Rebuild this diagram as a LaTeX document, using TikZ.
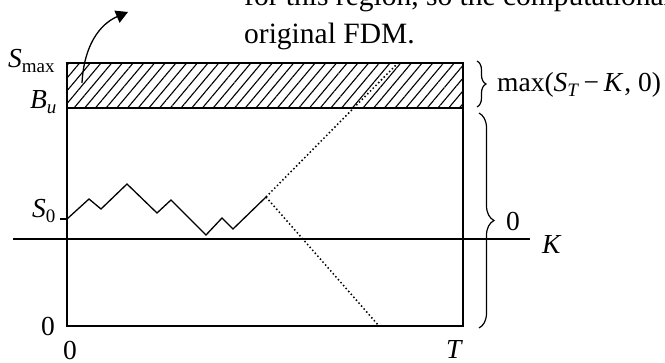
\documentclass[tikz,border=0pt]{standalone}
\usepackage{fontspec}
\setmainfont{Liberation Serif}
\usetikzlibrary{patterns.meta,decorations.pathreplacing,arrows.meta}
\newcommand{\lbsub}[1]{\raisebox{-0.2em}{\fontsize{19}{19}\selectfont #1}}
\begin{document}
\begin{tikzpicture}[x=1pt,y=-1pt,
  lbl/.style={anchor=base west,inner sep=0pt,font=\fontsize{27.5}{31}\selectfont},
  body/.style={anchor=base west,inner sep=0pt,font=\fontsize{29.5}{35}\selectfont},
  frame/.style={line width=1.3pt},
  dots/.style={line width=1.5pt,dash pattern=on 1.5pt off 2.4pt},
  hatch/.style={pattern={Lines[angle=50,distance=8.2pt,line width=1.1pt]}},
  brc/.style={line width=1.2pt,decorate,decoration={brace,amplitude=#1}}]
\useasboundingbox (0,0) rectangle (665,362);
% frame coordinates
\coordinate (TL) at (67,63);
\coordinate (TR) at (463,63);
\coordinate (BL) at (67,326);
\coordinate (BR) at (463,326);
\coordinate (BuL) at (67,108);
\coordinate (BuR) at (463,108);
\coordinate (KL) at (13,239);
\coordinate (KR) at (530,239);
% hatched band
\fill[hatch] (TL) rectangle (BuR);
\draw[frame] (TL) rectangle (BR);
\draw[frame] (BuL) -- (BuR);
\draw[frame] (KL) -- (KR);
% price path
\coordinate (P0) at (67,219);
\coordinate (Pend) at (266,197);
\coordinate (tick) at (60,219);
\draw[frame] (tick) -- (P0);
\draw[frame,line join=miter] (P0) -- (89,199) -- (101,209) -- (127,184) -- (157,213)
  -- (171,200) -- (206,235) -- (222,218) -- (233,229) -- (Pend);
\coordinate (Up) at (398,63);
\coordinate (Dn) at (379,326);
\draw[dots] (Pend) -- (Up);
\draw[dots] (Pend) -- (Dn);
% arrow
\coordinate (atail) at (82,83);
\coordinate (ahead) at (128,12);
\draw[line width=1.3pt,-{Triangle[length=12pt,width=13pt]}] (atail) .. controls (84,45) and (100,24) .. (ahead);
% braces
\draw[brc=9pt] (477,61) -- (477,107);
\draw[brc=15pt] (479,113) -- (479,328);
% labels
\node[lbl] (smax) at (8,67) {\textit{S}\lbsub{max}};
\node[lbl] (bu) at (30,108) {\textit{B}\lbsub{\textit{u}}};
\node[lbl] (s0) at (32,217) {\textit{S}\lbsub{0}};
\node[lbl] (zl) at (41,335) {0};
\node[lbl] (zb) at (63,359) {0};
\node[lbl] (T) at (446,358) {\textit{T}};
\node[lbl] (K) at (542,253) {\textit{K}};
\node[lbl] (zr) at (506,230) {0};
\node[lbl] (payoff) at (497,91) {max(\textit{S}\lbsub{\textit{T}}\,−\,\textit{K}\kern1pt, 0)};
\node[body] (l1) at (244,5) {for this region, so the computational};
\node[body] (l2) at (244,43) {original FDM.};
\end{tikzpicture}
\end{document}
